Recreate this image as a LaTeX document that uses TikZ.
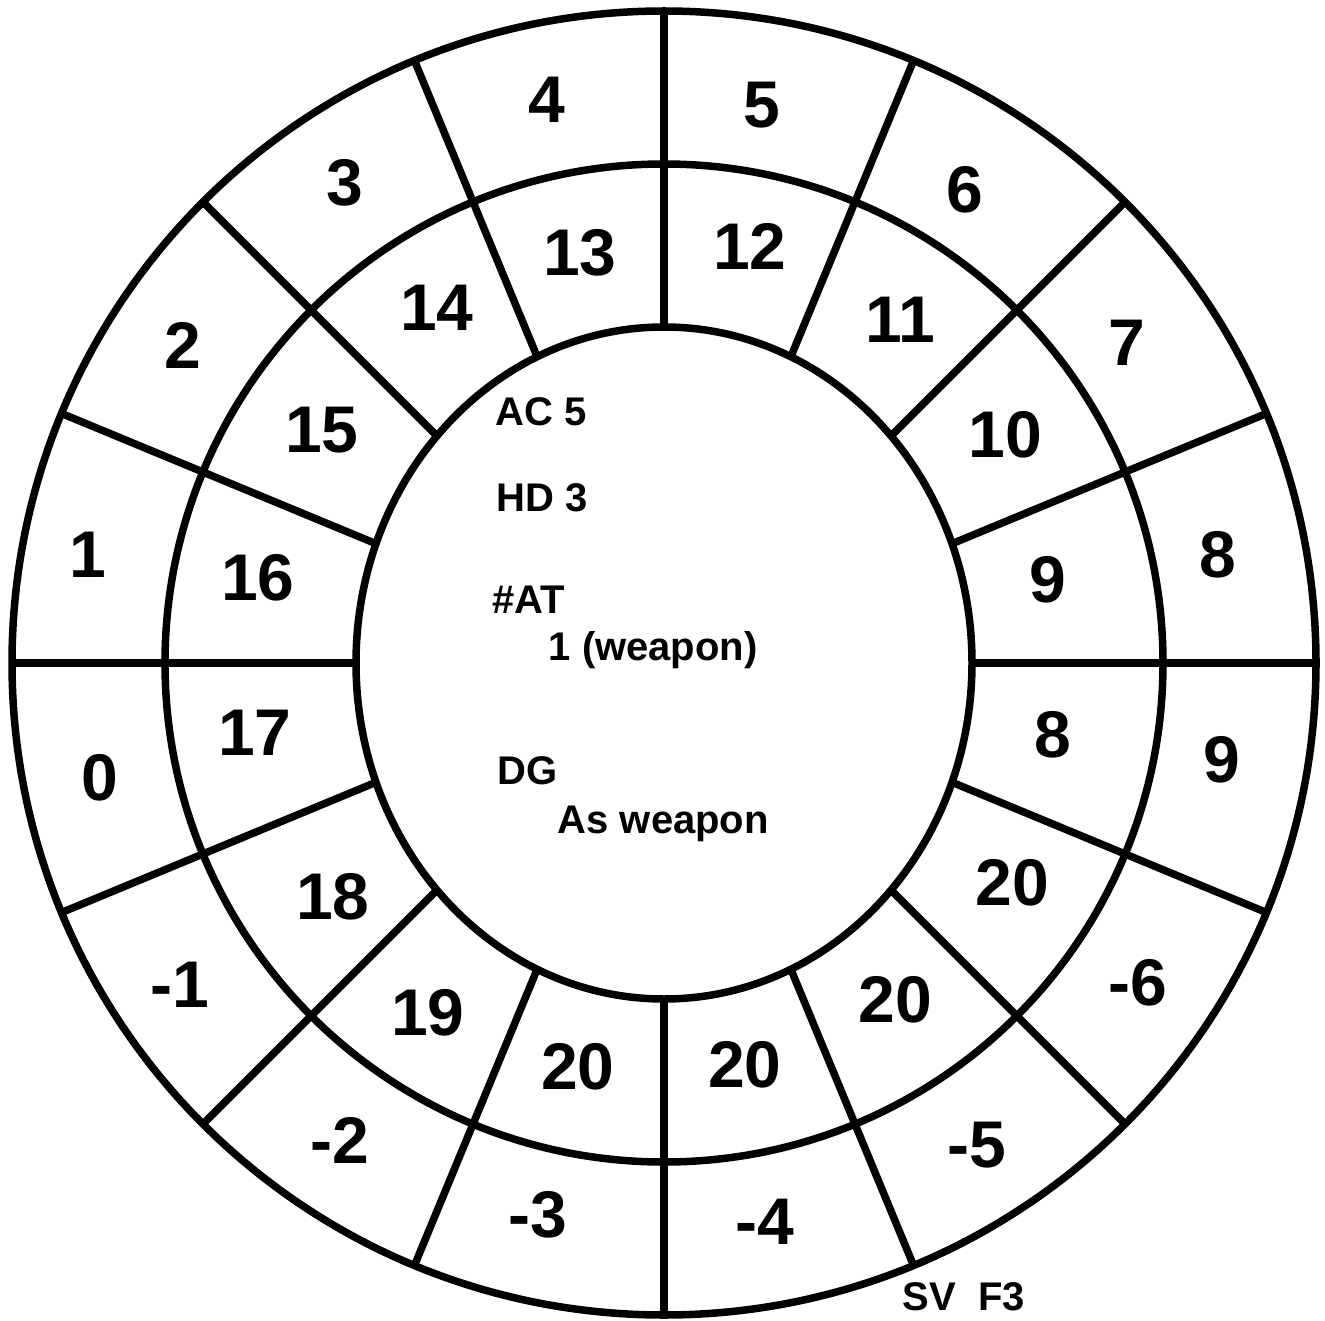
\documentclass[tikz,border=0pt]{standalone}
\usepackage{fontspec}
\setmainfont{Liberation Sans}
\begin{document}
\begin{tikzpicture}[x=1pt,y=-1pt,line width=7.5pt,
  big/.style={font=\fontsize{66}{66}\selectfont\bfseries,inner sep=0pt},
  small/.style={font=\fontsize{40}{40}\selectfont\bfseries,inner sep=0pt,anchor=base west}]
\useasboundingbox (0,0) rectangle (1325,1321);
\coordinate (c) at (664,663);
% spokes
\foreach \a in {0,22.5,...,337.5} \draw (c) -- ++(\a:652);
% inner ellipse (blank centre)
\fill[white] (c) ellipse [x radius=308, y radius=336];
\draw (c) ellipse [x radius=308, y radius=336];
% rings
\draw (c) circle [radius=499];
\draw (c) circle [radius=652];
% outer ring labels
\node[big] (o4)  at (547,100)  {4};
\node[big] (o5)  at (762,105)  {5};
\node[big] (o6)  at (965,190)  {6};
\node[big] (o7)  at (1127,343) {7};
\node[big] (o8)  at (1218,555) {8};
\node[big] (o9)  at (1222,760) {9};
\node[big] (om6) at (1138,983) {-6};
\node[big] (om5) at (977,1145) {-5};
\node[big] (om4) at (765,1222) {-4};
\node[big] (om3) at (538,1215) {-3};
\node[big] (om2) at (340,1140) {-2};
\node[big] (om1) at (180,985)  {-1};
\node[big] (o0)  at (100,778)  {0};
\node[big] (o1)  at (88,555)   {1};
\node[big] (o2)  at (183,345)  {2};
\node[big] (o3)  at (345,183)  {3};
% middle ring labels
\node[big] (m13)  at (580,253)  {13};
\node[big] (m12)  at (750,246)  {12};
\node[big] (m11)  at (900,320)  {11};
\node[big] (m10)  at (1005,435) {10};
\node[big] (m9)   at (1048,580) {9};
\node[big] (m8)   at (1053,735) {8};
\node[big] (m20a) at (1012,883) {20};
\node[big] (m20b) at (895,1000) {20};
\node[big] (m20c) at (745,1065) {20};
\node[big] (m20d) at (578,1067) {20};
\node[big] (m19)  at (428,1013) {19};
\node[big] (m18)  at (333,897)  {18};
\node[big] (m17)  at (255,733)  {17};
\node[big] (m16)  at (258,578)  {16};
\node[big] (m15)  at (322,430)  {15};
\node[big] (m14)  at (437,308)  {14};
% centre text
\node[small] (ac) at (492,425) {AC 5};
\node[small] (hd) at (493,511) {HD 3};
\node[small] (at) at (489,613) {\#AT};
\node[small] (atv) at (545,660) {1 (weapon)};
\node[small] (dg) at (494,784) {DG};
\node[small] (dgv) at (554,833) {As weapon};
\node[small] (sv) at (899,1310) {SV\ \ F3};
\end{tikzpicture}
\end{document}
